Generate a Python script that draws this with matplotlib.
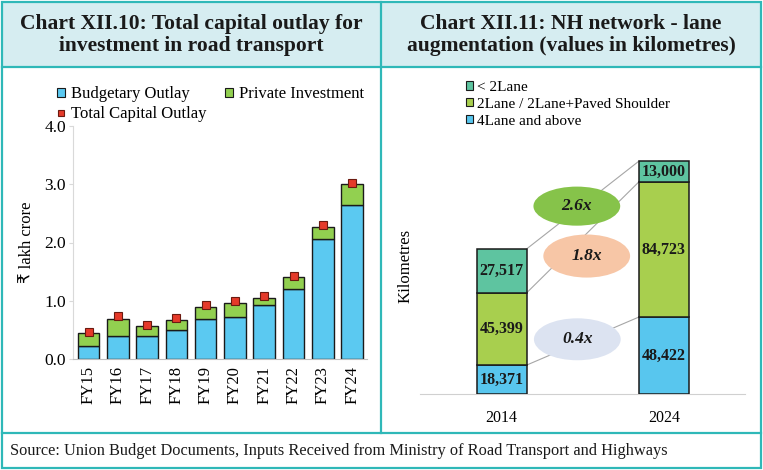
import numpy as np
import matplotlib.pyplot as plt
from matplotlib.patches import Rectangle, Ellipse, Patch
from matplotlib.lines import Line2D

plt.rcParams['font.family'] = ['Liberation Serif', 'DejaVu Sans']

# --- Chart XII.10 data (₹ lakh crore) ---
years = ["FY15", "FY16", "FY17", "FY18", "FY19", "FY20", "FY21", "FY22", "FY23", "FY24"]
budgetary = [0.23, 0.40, 0.40, 0.49, 0.69, 0.72, 0.93, 1.21, 2.06, 2.64]
private = [0.21, 0.29, 0.16, 0.18, 0.21, 0.24, 0.12, 0.19, 0.20, 0.36]
total_outlay = [0.47, 0.73, 0.58, 0.70, 0.93, 0.99, 1.08, 1.43, 2.30, 3.02]

# --- Chart XII.11 data (km) ---
lane_years = ["2014", "2024"]
four_lane = [18371, 48422]
two_lane = [45399, 84723]
below_two = [27517, 13000]
growth_labels = ["2.6x", "1.8x", "0.4x"]

# colours
teal = "#2fb8b8"
title_bg = "#d6edf1"
c_budget = "#5bc9f1"
c_private = "#92d050"
c_total = "#e53a2a"
c_below = "#5ec4a0"
c_two = "#a8cf4e"
c_four = "#58c6ee"
ell_colors = ["#86c34a", "#f7c6a6", "#dce3f1"]

W, H = 763, 470


def box(l, t, r, b):
    return [l / W, 1 - b / H, (r - l) / W, (b - t) / H]


fig = plt.figure(figsize=(W / 100, H / 100), dpi=100)

# frame and title band
fig.patches.append(Rectangle((2 / W, 1 - 67 / H), 759 / W, 65 / H,
                             transform=fig.transFigure, fc=title_bg, ec="none", zorder=0))
fig.patches.append(Rectangle((2 / W, 2 / H), 759 / W, 466 / H, transform=fig.transFigure,
                             fill=False, ec=teal, lw=1.6, zorder=5))
for xs, ys in [([2, 761], [67, 67]), ([2, 761], [433, 433]), ([381, 381], [2, 433])]:
    fig.add_artist(Line2D([x / W for x in xs], [1 - y / H for y in ys],
                          transform=fig.transFigure, color=teal, lw=1.6))

fig.text(191.5 / W, 1 - 35 / H, "Chart XII.10: Total capital outlay for\ninvestment in road transport",
         ha="center", va="center", fontsize=15.5, fontweight="bold", linespacing=1.1, color="#1a1a1a")
fig.text(571 / W, 1 - 35 / H, "Chart XII.11: NH network - lane\naugmentation (values in kilometres)",
         ha="center", va="center", fontsize=15.5, fontweight="bold", linespacing=1.1, color="#1a1a1a")
fig.text(10 / W, 1 - 451 / H,
         "Source: Union Budget Documents, Inputs Received from Ministry of Road Transport and Highways",
         ha="left", va="center", fontsize=11.8, color="#1a1a1a")

# --- left chart ---
ax1 = fig.add_axes(box(73, 126, 367, 359))
x = np.arange(len(years))
ax1.bar(x, budgetary, 0.74, color=c_budget, edgecolor="#1a1a1a", lw=1.0, zorder=2)
ax1.bar(x, private, 0.74, bottom=budgetary, color=c_private, edgecolor="#1a1a1a", lw=1.0, zorder=2)
ax1.plot(x, total_outlay, "s", color=c_total, mec="#6b1a10", ms=6, mew=0.8, zorder=3)
ax1.set_xlim(-0.53, 9.51)
ax1.set_ylim(0, 4)
ax1.set_yticks([0, 1, 2, 3, 4], [f"{v:.1f}" for v in [0, 1, 2, 3, 4]])
ax1.set_xticks(x, years, rotation=90)
for s in ["top", "right"]:
    ax1.spines[s].set_visible(False)
ax1.spines["left"].set_color("#d9d9d9")
ax1.spines["bottom"].set_color("#bfbfbf")
ax1.tick_params(axis="x", length=0, labelsize=12, pad=5)
ax1.tick_params(axis="y", length=3, color="#d9d9d9", labelsize=12.5, pad=2)
ax1.set_ylabel("₹ lakh crore", fontsize=12)
ax1.yaxis.set_label_coords(-0.13, 0.5)

h_budget = Patch(fc=c_budget, ec="#1a1a1a", lw=0.8, label="Budgetary Outlay")
h_private = Patch(fc=c_private, ec="#1a1a1a", lw=0.8, label="Private Investment")
h_total = Line2D([], [], ls="none", marker="s", color=c_total, mec="#6b1a10", ms=5, mew=0.8,
                 label="Total Capital Outlay")
fig.legend(handles=[h_budget, h_total, h_private], ncol=2, loc="upper left",
           bbox_to_anchor=(57 / W, 1 - 86 / H), frameon=False, fontsize=12,
           handlelength=0.45, handleheight=0.45, handletextpad=0.4, columnspacing=1.1,
           labelspacing=0.25, borderaxespad=0, borderpad=0)

# --- right chart ---
ax2 = fig.add_axes(box(420, 150, 745, 394.3))
xr = np.arange(len(lane_years))
bw = 0.31
four = np.array(four_lane)
two = np.array(two_lane)
below = np.array(below_two)
segs = [(four, np.zeros(2), c_four), (two, four, c_two), (below, four + two, c_below)]
for vals, bottoms, col in segs:
    ax2.bar(xr, vals, bw, bottom=bottoms, color=col, edgecolor="#1a1a1a", lw=1.1, zorder=3)
    for xi, v, b in zip(xr, vals, bottoms):
        ax2.text(xi, b + v / 2, f"{v:,}", ha="center", va="center", fontsize=11.5,
                 fontweight="bold", color="#1a1a1a", zorder=4)
    tops = bottoms + vals
    ax2.plot([xr[0] + bw / 2, xr[1] - bw / 2], [tops[0], tops[1]], color="#a6a6a6", lw=0.8, zorder=1)

# growth ellipses (annotation layout)
ell_pos = [(0.463, 118000), (0.524, 86700), (0.466, 34500)]
ell_h = [24500, 27000, 26300]
for (ex, ey), eh, col, lab in zip(ell_pos, ell_h, ell_colors, growth_labels):
    ax2.add_patch(Ellipse((ex, ey), 0.535, eh, fc=col, ec="none", zorder=2))
    ax2.text(ex, ey, lab, ha="center", va="center", fontsize=12.5, fontweight="bold",
             fontstyle="italic", color="#1a1a1a", zorder=4)

ax2.set_xlim(-0.504, 1.50)
ax2.set_ylim(0, 153200)
ax2.set_xticks(xr, lane_years)
ax2.set_yticks([])
for s in ["top", "right", "left"]:
    ax2.spines[s].set_visible(False)
ax2.spines["bottom"].set_color("#d0d0d0")
ax2.tick_params(axis="x", length=0, labelsize=11.5, pad=11)
ax2.set_ylabel("Kilometres", fontsize=12)
ax2.yaxis.set_label_coords(-0.02, 0.525)

h_below = Patch(fc=c_below, ec="#1a1a1a", lw=0.8, label="< 2Lane")
h_two = Patch(fc=c_two, ec="#1a1a1a", lw=0.8, label="2Lane / 2Lane+Paved Shoulder")
h_four = Patch(fc=c_four, ec="#1a1a1a", lw=0.8, label="4Lane and above")
fig.legend(handles=[h_below, h_two, h_four], loc="upper left",
           bbox_to_anchor=(466 / W, 1 - 81 / H), frameon=False, fontsize=11,
           handlelength=0.45, handleheight=0.45, handletextpad=0.3,
           labelspacing=0.25, borderaxespad=0, borderpad=0)

fig.savefig("out.png", dpi=100)
